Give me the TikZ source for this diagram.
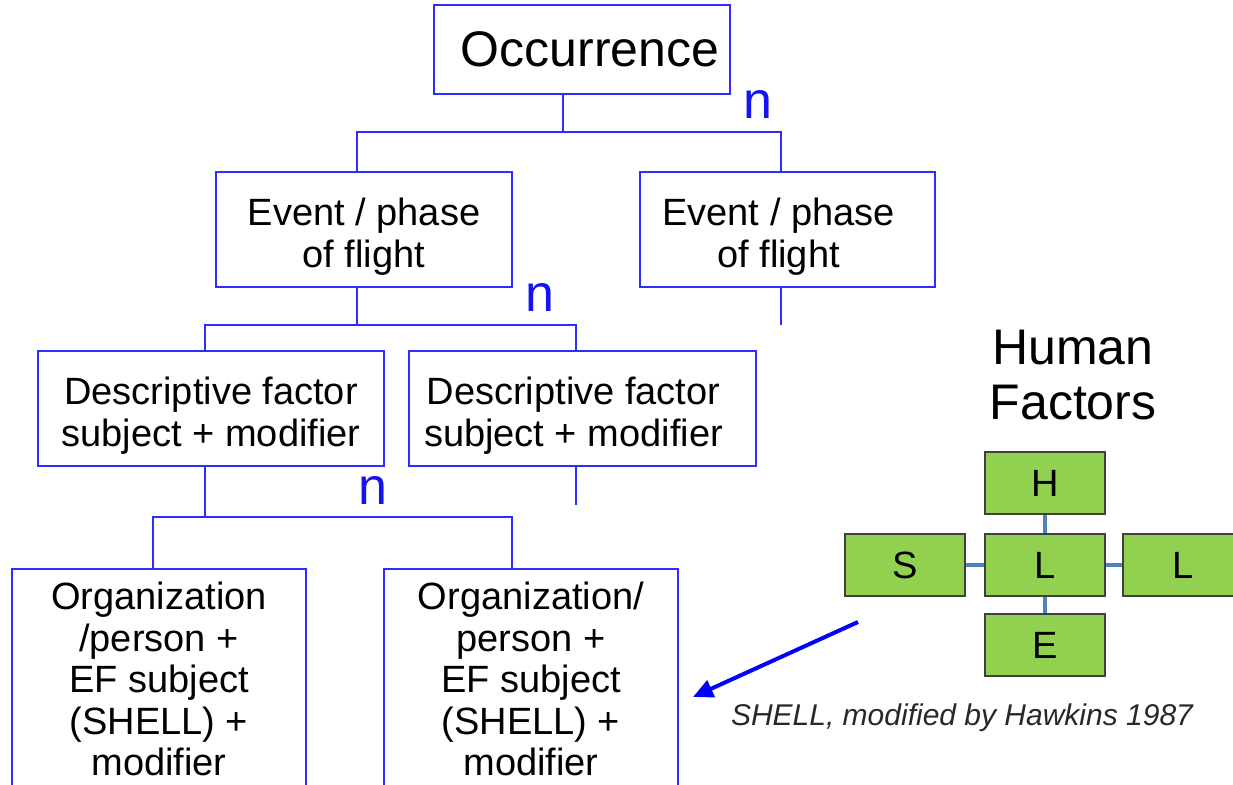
\documentclass[tikz,border=0pt]{standalone}
\usepackage{fontspec}
\setmainfont{Liberation Sans}
\usetikzlibrary{positioning,calc,arrows.meta}
\definecolor{boxblue}{RGB}{45,45,255}
\definecolor{countblue}{RGB}{20,20,240}
\definecolor{shellgreen}{RGB}{146,208,80}
\definecolor{shellline}{RGB}{79,129,189}
\definecolor{captiongray}{RGB}{40,40,40}

\begin{document}
\begin{tikzpicture}[x=0.5pt, y=-0.5pt,
    box/.style={draw=boxblue, line width=1pt, align=center, inner sep=0pt, fill=white,
        font=\fontsize{19}{20.75}\selectfont},
    twoline/.style={box, text height=47.75pt, text depth=9.75pt},
    link/.style={draw=boxblue, line width=0.8pt},
    count/.style={text=countblue, inner sep=0pt, font=\fontsize{26}{26}\selectfont},
    shellbox/.style={draw=black!75, line width=1pt, fill=shellgreen, inner sep=0pt,
        minimum width=60pt, minimum height=31pt, font=\fontsize{19}{19}\selectfont},
    hflink/.style={draw=shellline, line width=2pt},
]
    \clip (0,0) rectangle (1233,785);
    % Tree
    \node[box, minimum width=148pt, minimum height=44.5pt, font=\fontsize{25}{25}\selectfont] (occ) at (582,49.5) {\hspace*{8pt}Occurrence};
    \node[twoline, minimum width=148pt] (ev1) at (364,229.5) {Event / phase\\of flight};
    \node[twoline, minimum width=147.5pt] (ev2) at (787.5,229.5) {Event / phase\hspace*{9pt}\\of flight\hspace*{9pt}};
    \node[twoline, minimum width=173pt] (desc1) at (211,408.5) {Descriptive factor\\subject + modifier};
    \node[twoline, minimum width=173.5pt] (desc2) at (582.5,408.5) {Descriptive factor\hspace*{9pt}\\subject + modifier\hspace*{9pt}};
    \node[box, minimum width=147pt, minimum height=110pt] (org1) at (159,679) {Organization\\/person +\\EF subject\\(SHELL) +\\modifier};
    \node[box, minimum width=147pt, minimum height=110pt] (org2) at (531,679) {Organization/\\person +\\EF subject\\(SHELL) +\\modifier};

    \coordinate (j1) at (563,132);
    \coordinate (j1l) at (357,132);
    \coordinate (j1r) at (781,132);
    \draw[link] (occ.south -| j1) -- (j1);
    \draw[link] (ev1.north -| j1l) -- (j1l) -- (j1r) -- (ev2.north -| j1r);

    \coordinate (j2) at (357,325);
    \coordinate (j2l) at (205,325);
    \coordinate (j2r) at (576,325);
    \coordinate (ev2tail) at (781,325);
    \draw[link] (ev1.south -| j2) -- (j2);
    \draw[link] (desc1.north -| j2l) -- (j2l) -- (j2r) -- (desc2.north -| j2r);
    \draw[link] (ev2.south -| ev2tail) -- (ev2tail);

    \coordinate (j3) at (205,517);
    \coordinate (j3l) at (153,517);
    \coordinate (j3r) at (512,517);
    \coordinate (desc2tail) at (576,505);
    \draw[link] (desc1.south -| j3) -- (j3);
    \draw[link] (org1.north -| j3l) -- (j3l) -- (j3r) -- (org2.north -| j3r);
    \draw[link] (desc2.south -| desc2tail) -- (desc2tail);

    \node[count] (n1) at (758,105) {n};
    \node[count] (n2) at (540,298) {n};
    \node[count] (n3) at (373,491) {n};

    % SHELL model
    \node[align=center, font=\fontsize{25}{27.5}\selectfont] (hf) at (1073,375) {Human\\Factors};
    \node[shellbox] (sH) at (1045,483.5) {H};
    \node[shellbox] (sL) at (1045,565) {L};
    \node[shellbox] (sS) at (905,565) {S};
    \node[shellbox] (sL2) at (1183,565) {L};
    \node[shellbox] (sE) at (1045,645) {E};
    \draw[hflink] (sH.south) -- (sL.north);
    \draw[hflink] (sL.south) -- (sE.north);
    \draw[hflink] (sS.east) -- (sL.west);
    \draw[hflink] (sL.east) -- (sL2.west);

    \node[text=captiongray, font=\fontsize{15}{15}\selectfont\itshape] (cap) at (962,718) {SHELL, modified by Hawkins 1987};
    \coordinate (arrfrom) at (858,622);
    \coordinate (arrto) at (693,697);
    \draw[blue, line width=2pt, -{Triangle[length=10pt,width=9pt]}] (arrfrom) -- (arrto);
\end{tikzpicture}
\end{document}
